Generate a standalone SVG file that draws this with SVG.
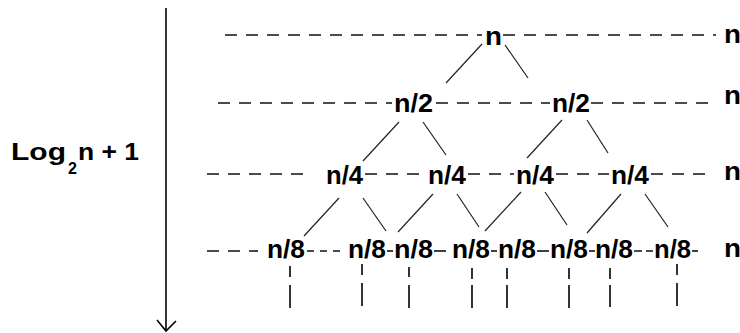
<svg xmlns="http://www.w3.org/2000/svg" width="740" height="333" viewBox="0 0 740 333">
<style>
text{font-family:"Liberation Sans",Arial,sans-serif;font-weight:bold;font-size:25px;fill:#000}
.lvl{stroke:#111;stroke-width:1.6;stroke-dasharray:12 9;fill:none}
.edge{stroke:#222;stroke-width:1.2;fill:none}
.down{stroke:#111;stroke-width:1.7;fill:none}
.axis{stroke:#000;stroke-width:1.6;fill:none}
</style>
<rect width="740" height="333" fill="#fff"/>
<g id="axis">
<line class="axis" x1="166" y1="8" x2="166" y2="331"/>
<polyline class="axis" points="157,320 166,331 176,321"/>
</g>
<g id="depth-label">
<text x="11" y="160" textLength="55" lengthAdjust="spacingAndGlyphs" style="font-size:23px">Log</text>
<text x="68" y="174" style="font-size:16px">2</text>
<text x="78" y="160" textLength="61" lengthAdjust="spacingAndGlyphs" style="font-size:23px">n + 1</text>
</g>
<g id="connectors">
<line class="lvl" x1="225" y1="35" x2="482" y2="35"/>
<line class="lvl" x1="503" y1="35" x2="716" y2="35"/>
<line class="lvl" x1="218" y1="103" x2="392" y2="103"/>
<line class="lvl" x1="436" y1="103" x2="550" y2="103"/>
<line class="lvl" x1="591" y1="103" x2="716" y2="103"/>
<line class="lvl" x1="207" y1="174" x2="305" y2="174"/>
<line class="lvl" x1="365" y1="174" x2="426" y2="174"/>
<line class="lvl" x1="468" y1="174" x2="514" y2="174"/>
<line class="lvl" x1="556" y1="174" x2="609" y2="174"/>
<line class="lvl" x1="651" y1="174" x2="712" y2="174"/>
<line class="lvl" x1="207" y1="251" x2="258" y2="251"/>
<line class="lvl" x1="307" y1="251" x2="346" y2="251" style="stroke-dasharray:7 6"/>
<line class="lvl" x1="387" y1="251" x2="393" y2="251"/>
<line class="lvl" x1="434" y1="251" x2="451" y2="251"/>
<line class="lvl" x1="491" y1="251" x2="497" y2="251"/>
<line class="lvl" x1="537" y1="251" x2="549" y2="251"/>
<line class="lvl" x1="589" y1="251" x2="595" y2="251"/>
<line class="lvl" x1="634" y1="251" x2="653" y2="251" style="stroke-dasharray:8 4"/>
<line class="lvl" x1="692" y1="251" x2="698" y2="251"/>
<line class="edge" x1="482" y1="44" x2="446" y2="83"/>
<line class="edge" x1="505" y1="45" x2="528" y2="78"/>
<line class="edge" x1="399" y1="122" x2="363" y2="161"/>
<line class="edge" x1="423" y1="122" x2="446" y2="155"/>
<line class="edge" x1="562" y1="120" x2="527" y2="158"/>
<line class="edge" x1="587" y1="120" x2="608" y2="153"/>
<line class="edge" x1="339" y1="198" x2="304" y2="236"/>
<line class="edge" x1="363" y1="198" x2="386" y2="231"/>
<line class="edge" x1="433" y1="194" x2="398" y2="232"/>
<line class="edge" x1="457" y1="194" x2="479" y2="227"/>
<line class="edge" x1="521" y1="192" x2="485" y2="231"/>
<line class="edge" x1="545" y1="192" x2="567" y2="225"/>
<line class="edge" x1="621" y1="194" x2="587" y2="233"/>
<line class="edge" x1="645" y1="194" x2="668" y2="227"/>
<g class="down">
<path d="M290 266V277M290 285V308"/>
<path d="M362 264V275M362 283V306"/>
<path d="M409 267V277M409 285V308"/>
<path d="M472 268V279M472 285V308"/>
<path d="M507 268V279M507 285V308"/>
<path d="M569 268V279M569 285V308"/>
<path d="M610 268V279M610 285V307"/>
<path d="M677 264V275M677 283V306"/>
</g>
</g>
<g id="n-root"><text x="485" y="45" textLength="17" lengthAdjust="spacingAndGlyphs">n</text></g>
<g id="n2-a"><text x="394" y="112" textLength="39" lengthAdjust="spacingAndGlyphs">n/2</text></g>
<g id="n2-b"><text x="552" y="112" textLength="38" lengthAdjust="spacingAndGlyphs">n/2</text></g>
<g id="n4-a"><text x="326" y="184" textLength="37" lengthAdjust="spacingAndGlyphs">n/4</text></g>
<g id="n4-b"><text x="428" y="184" textLength="38" lengthAdjust="spacingAndGlyphs">n/4</text></g>
<g id="n4-c"><text x="516" y="184" textLength="38" lengthAdjust="spacingAndGlyphs">n/4</text></g>
<g id="n4-d"><text x="611" y="184" textLength="38" lengthAdjust="spacingAndGlyphs">n/4</text></g>
<g id="n8-a"><text x="267" y="258" textLength="38" lengthAdjust="spacingAndGlyphs">n/8</text></g>
<g id="n8-b"><text x="348" y="258" textLength="38" lengthAdjust="spacingAndGlyphs">n/8</text></g>
<g id="n8-c"><text x="394" y="258" textLength="39" lengthAdjust="spacingAndGlyphs">n/8</text></g>
<g id="n8-d"><text x="452" y="258" textLength="38" lengthAdjust="spacingAndGlyphs">n/8</text></g>
<g id="n8-e"><text x="498" y="258" textLength="38" lengthAdjust="spacingAndGlyphs">n/8</text></g>
<g id="n8-f"><text x="550" y="258" textLength="38" lengthAdjust="spacingAndGlyphs">n/8</text></g>
<g id="n8-g"><text x="595" y="258" textLength="38" lengthAdjust="spacingAndGlyphs">n/8</text></g>
<g id="n8-h"><text x="654" y="258" textLength="37" lengthAdjust="spacingAndGlyphs">n/8</text></g>
<g id="sum-1"><text x="724" y="43" textLength="17" lengthAdjust="spacingAndGlyphs">n</text></g>
<g id="sum-2"><text x="724" y="104" textLength="17" lengthAdjust="spacingAndGlyphs">n</text></g>
<g id="sum-3"><text x="724" y="180" textLength="17" lengthAdjust="spacingAndGlyphs">n</text></g>
<g id="sum-4"><text x="724" y="257" textLength="17" lengthAdjust="spacingAndGlyphs">n</text></g>
</svg>
